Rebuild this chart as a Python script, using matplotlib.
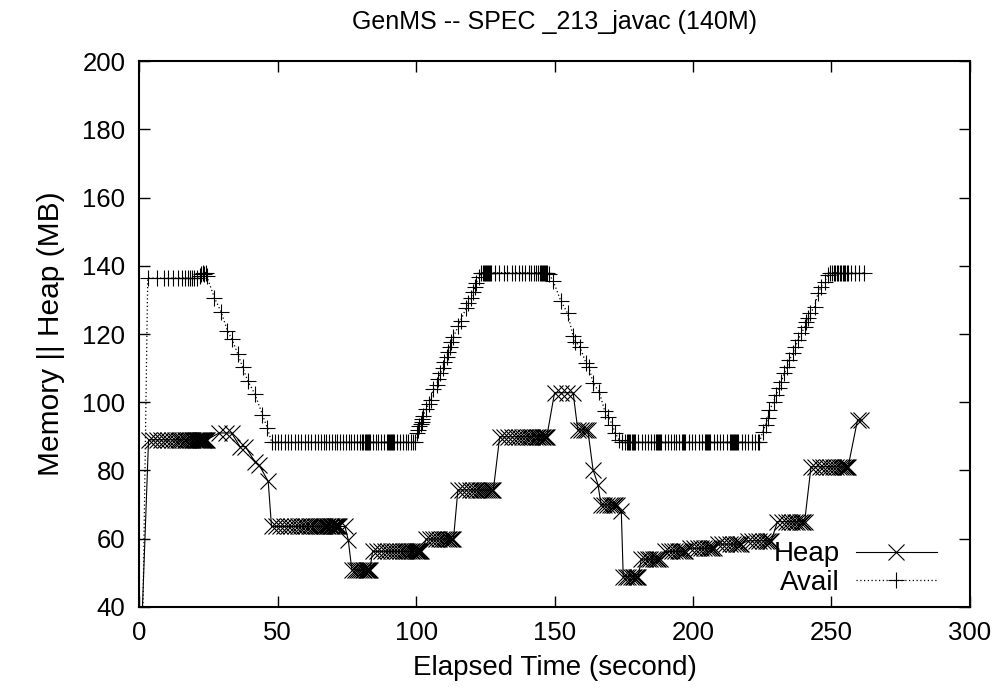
import matplotlib
matplotlib.use("Agg")
import matplotlib.pyplot as plt

plt.rcParams['font.family'] = ['Liberation Sans', 'DejaVu Sans']

title = "GenMS -- SPEC _213_javac (140M)"
xlabel = "Elapsed Time (second)"
ylabel = "Memory || Heap (MB)"
xticks = [0, 50, 100, 150, 200, 250, 300]
yticks = [40, 60, 80, 100, 120, 140, 160, 180, 200]

# ---- Heap series (time in s, value in MB) ----
heap_t = ([1.2]
          + [3.4, 5.0, 6.6, 8.0, 9.4, 10.6, 11.8, 12.9, 13.9, 14.8, 15.6, 16.4, 17.1, 17.8, 18.4,
             19.0, 19.5, 20.0, 20.4, 20.8, 21.2, 21.6, 22.0, 22.3, 22.6, 22.9, 23.2, 23.5, 23.8, 24.1, 24.4]
          + [28.9, 31.2, 33.4]
          + [36.4, 38.4, 41.8, 43.4, 46.6]
          + [47.8, 49.4, 51.0, 52.4, 53.8, 55.0, 56.2, 57.4, 58.4, 59.4, 60.4, 61.3, 62.2, 63.0, 63.8,
             64.6, 65.3, 66.0, 66.6, 67.2, 67.8, 68.3, 68.8, 69.3, 69.8, 70.2, 70.6, 71.0, 71.4, 71.8, 72.2, 74.3]
          + [75.5]
          + [76.8, 77.8, 78.7, 79.5, 80.2, 80.8, 81.3, 81.8, 82.2, 82.6, 83.0, 83.3]
          + [84.3, 85.8, 87.2, 88.6, 89.9, 91.1, 92.2, 93.2, 94.2, 95.1, 95.9, 96.7, 97.4, 98.1, 98.7,
             99.3, 99.8, 100.3, 100.7, 101.1, 101.5, 101.9]
          + [103.7, 105.0, 106.2, 107.3, 108.3, 109.2, 110.0, 110.7, 111.4, 112.0, 112.5, 113.0, 113.5]
          + [115.1, 116.6, 118.0, 119.3, 120.5, 121.6, 122.6, 123.5, 124.3, 125.0, 125.7, 126.3, 126.9, 127.4, 127.9]
          + [130.2, 131.8, 133.3, 134.7, 136.0, 137.2, 138.3, 139.3, 140.3, 141.2, 142.0, 142.8, 143.5,
             144.2, 144.8, 145.4, 145.9, 146.4, 146.8, 147.2]
          + [150.0, 152.3, 154.5, 156.7]
          + [158.4, 159.6, 160.6, 161.4, 162.0]
          + [163.9, 165.7]
          + [166.8, 168.0, 169.1, 170.0, 170.8, 171.5, 172.0, 172.4]
          + [174.1]
          + [174.8, 175.8, 176.7, 177.5, 178.2, 178.8, 179.3, 179.8, 180.2]
          + [181.3, 182.5, 183.6, 184.6, 185.5, 186.3, 187.0, 187.5, 188.0]
          + [189.8, 191.2, 192.5, 193.6, 194.6, 195.4, 196.1, 196.6, 197.0]
          + [198.8, 200.3, 201.7, 203.0, 204.1, 205.0, 205.8, 206.5, 207.0, 207.4]
          + [208.9, 210.5, 212.0, 213.3, 214.5, 215.5, 216.3, 217.0, 217.5]
          + [219.7, 221.2, 222.7, 224.0, 225.2, 226.2, 227.0, 227.7, 228.2]
          + [230.5, 232.0, 233.4, 234.7, 235.8, 236.8, 237.7, 238.5, 239.2, 239.8, 240.3]
          + [242.6, 244.2, 245.7, 247.1, 248.4, 249.6, 250.7, 251.7, 252.6, 253.4, 254.1, 254.7, 255.2, 255.6, 256.0]
          + [259.4, 260.8])

heap_v = ([40.0]
          + [89.0] * 31
          + [91.0] * 3
          + [87.0, 87.0, 82.5, 81.5, 76.8]
          + [63.6] * 32
          + [59.7]
          + [50.9] * 12
          + [56.3] * 22
          + [59.9] * 13
          + [74.3] * 15
          + [89.9] * 20
          + [102.8] * 4
          + [91.9] * 5
          + [80.2, 75.8]
          + [69.9] * 8
          + [68.0]
          + [48.9] * 9
          + [54.0] * 9
          + [56.3] * 9
          + [57.2] * 10
          + [58.4] * 9
          + [59.4] * 9
          + [65.0] * 11
          + [81.1] * 15
          + [94.8] * 2)

# ---- Avail series (time in s, value in MB) ----
avail_t = ([1.4]
           + [3.1, 6.4, 8.8, 10.5, 12.3, 13.9, 15.4, 16.6, 17.8, 18.4, 19.2, 19.9]
           + [21.0, 21.8, 22.5, 23.0, 23.5, 24.0, 24.4]
           + [27.2, 29.6, 31.9, 33.5, 35.6, 37.4, 39.2, 41.8, 44.5, 46.3]
           + [47.9, 49.0, 50.2, 51.4, 52.6, 53.8, 55.0, 56.2, 57.4, 58.6, 59.8, 61.0, 62.2, 63.4, 64.6,
              65.6, 66.6, 67.6, 68.6, 69.6, 70.6, 71.6, 72.6, 73.6, 74.6, 75.6, 76.6, 77.6, 78.6, 79.6,
              80.6, 81.0, 81.4, 81.8, 82.2, 82.6, 83.0, 83.4, 84.4, 85.4, 86.4, 87.4, 88.4, 89.4, 89.8,
              90.2, 90.6, 91.0, 91.4, 91.8, 92.2, 93.2, 94.2, 95.2, 96.2, 97.2, 98.2, 99.0, 99.6]
           + [100.2, 100.7, 101.1, 101.6, 102.0, 102.3, 102.6, 103.5, 104.7, 105.3, 106.2, 107.4, 108.0,
              108.8, 109.6, 110.1, 111.0, 111.6, 112.2, 112.6, 113.4, 115.2, 116.1, 118.0, 118.8, 119.8,
              120.6, 121.2, 121.8, 122.8]
           + [123.6, 124.0, 124.4, 124.8, 125.2, 125.6, 126.0, 126.4, 126.8, 127.2, 128.6, 130.0, 131.6,
              133.0, 134.6, 135.8, 137.0, 138.2, 139.4, 140.6, 141.6, 142.6, 143.4, 144.0, 144.6, 145.0,
              145.4, 145.8, 146.2, 146.6, 147.0, 147.4]
           + [148.0, 149.5, 152.2, 154.7, 156.7, 157.5, 159.1, 161.3, 162.5, 163.9, 166.1, 168.1, 169.3,
              170.9, 171.8, 173.3]
           + [174.3, 175.5, 176.2, 176.6, 177.0, 177.4, 177.8, 178.2, 178.6, 179.0, 180.2, 181.4, 182.6,
              183.8, 185.0, 186.0, 186.6, 187.0, 187.4, 187.8, 188.2, 188.6, 189.8, 191.0, 192.0, 193.0,
              194.0, 195.0, 196.0, 196.4, 196.8, 197.2, 198.4, 199.6, 200.8, 202.0, 203.2, 204.2, 204.6,
              205.0, 205.4, 205.8, 206.2, 207.4, 208.6, 209.8, 211.0, 212.2, 213.2, 213.6, 214.0, 214.4,
              214.8, 215.2, 215.6, 216.0, 216.4, 217.6, 218.8, 220.0, 221.2, 222.4, 223.4, 224.0]
           + [225.2, 226.2, 227.0, 227.6, 229.1, 230.0, 231.0, 231.8, 233.0, 233.9, 234.8, 236.0, 237.0,
              237.8, 239.1, 240.3, 240.8, 241.5, 242.3, 243.9, 245.1, 246.3, 247.5, 248.7]
           + [249.5, 250.2, 250.8, 251.4, 252.0, 252.5, 253.0, 253.5, 254.0, 254.5, 255.0, 255.5, 256.0,
              257.2, 258.4, 260.0, 261.6])

avail_v = ([40.0]
           + [136.4] * 12
           + [136.5, 137.0, 137.5, 138.0, 137.5, 138.0, 137.0]
           + [130.6, 126.5, 120.9, 118.5, 114.2, 110.2, 106.3, 102.4, 96.4, 92.4]
           + [88.3] * 59
           + [91.1, 92.0, 92.9, 93.6, 94.3, 95.2, 96.1, 98.0, 99.5, 100.7, 103.8, 105.1, 106.8,
              108.5, 110.0, 111.9, 113.4, 114.8, 116.3, 117.7, 119.0, 122.3, 123.9, 127.5, 129.2, 130.7,
              132.2, 133.7, 135.1, 136.8]
           + [138.0] * 32
           + [137.5, 135.6, 129.8, 126.1, 119.4, 117.8, 116.3, 111.6, 110.2, 105.6, 103.1, 97.5, 95.8,
              93.4, 91.1, 89.0]
           + [88.3] * 64
           + [91.4, 93.4, 95.3, 97.7, 100.2, 102.1, 104.1, 106.0, 108.5, 110.4, 112.4, 114.3, 116.3,
              118.2, 120.2, 122.1, 123.5, 124.8, 126.1, 128.0, 131.9, 133.9, 135.3, 137.3]
           + [138.0] * 17)

fig = plt.figure(figsize=(10.01, 6.94), dpi=100)
ax = fig.add_axes([0.139, 0.1254, 0.830, 0.7866])

ax.plot(heap_t, heap_v, color='black', linestyle='-', linewidth=0.8,
        marker='x', markersize=11.5, markeredgewidth=0.8, markevery=slice(1, None),
        label='Heap')
ax.plot(avail_t, avail_v, color='black', linestyle=(0, (1, 2)), linewidth=0.9,
        marker='+', markersize=11, markeredgewidth=0.8, markevery=slice(1, None),
        label='Avail')

ax.set_xlim(0, 300)
ax.set_ylim(40, 200)
ax.set_xticks(xticks)
ax.set_yticks(yticks)
ax.tick_params(direction='in', length=8, width=1.0, top=True, right=True,
               labelsize=18.5, pad=10, colors='black')
for s in ax.spines.values():
    s.set_linewidth(1.5)

ax.set_xlabel(xlabel, fontsize=20, labelpad=7)
ax.set_ylabel(ylabel, fontsize=21.5, labelpad=12)
ax.set_title(title, fontsize=18, pad=23)

leg = ax.legend(loc='lower right', bbox_to_anchor=(0.96, 0.02), frameon=False,
                markerfirst=False, fontsize=20, handlelength=2.9,
                handletextpad=0.6, labelspacing=0.1, borderpad=0, borderaxespad=0)

fig.savefig('out.png', dpi=100)
